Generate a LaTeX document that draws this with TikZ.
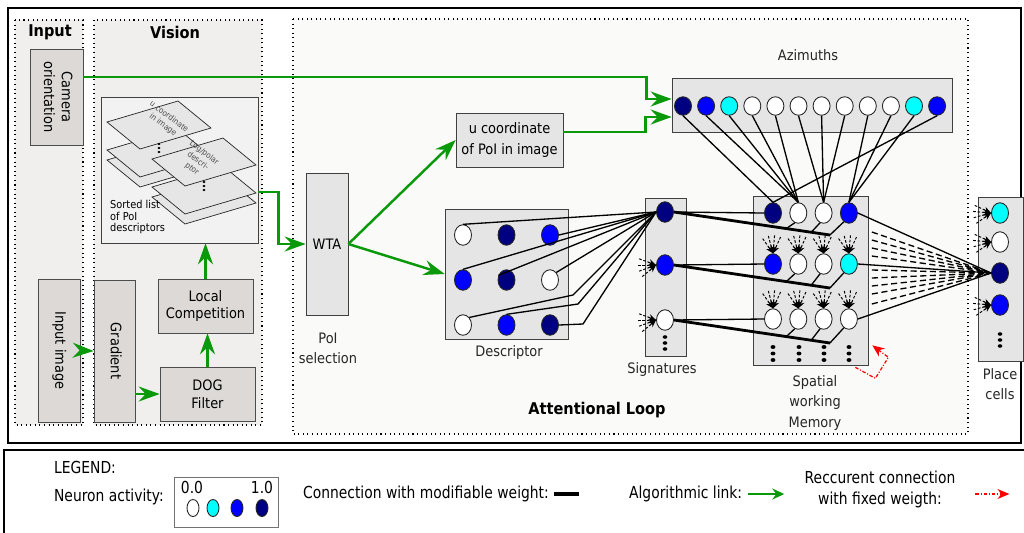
\documentclass[tikz,border=0pt]{standalone}
\usepackage{fontspec}
\setmainfont[FakeStretch=0.9]{DejaVu Sans}
\newfontfamily\legfont[FakeStretch=0.84]{DejaVu Sans}
\usetikzlibrary{arrows.meta, shapes.geometric, calc}

\definecolor{panelgray}{HTML}{F0EFED}
\definecolor{loopgray}{HTML}{FAFAF8}
\definecolor{blockgray}{HTML}{DCD9D6}
\definecolor{boxgray}{HTML}{E5E5E5}
\definecolor{layergray}{HTML}{E6E6E6}
\definecolor{algogreen}{HTML}{0A990A}
\definecolor{navyn}{HTML}{000080}
\definecolor{bluen}{HTML}{0000FF}
\definecolor{cyann}{HTML}{00FFFF}

% dashed input fan pointing at #1, coming from direction #2
\newcommand{\fanin}[2]{%
  \foreach \da in {-30,-10,10,30}
    \draw[fan] (#1) ++(#2+\da:0.36cm) -- (#1);}
% column of three dots
\newcommand{\dotcol}[3]{%
  \foreach \k in {0,1,2}
    \fill (#1,#2+\k*#3) ellipse ({#3*0.38} and {#3*0.3});}
% one sheet of the sorted list
\newcommand{\sheet}[2]{%
  \filldraw[layer] (#1,#2) -- ++(71,-21) -- ++(33,27) -- ++(-71,21) -- cycle;}
\newcommand{\vtext}[1]{\rotatebox{-90}{\begin{tabular}{@{}c@{}}#1\end{tabular}}}

\begin{document}
\begin{tikzpicture}[x=0.02cm, y=-0.02cm,
  font=\fontsize{8.2}{11.5}\selectfont,
  panel/.style={draw, dotted, line width=0.6pt, fill=panelgray},
  block/.style={draw=black!70, fill=blockgray, align=center, inner sep=1pt,
                font=\fontsize{8.2}{10}\selectfont},
  box/.style={draw=black!75, fill=boxgray, align=center, inner sep=1pt},
  layer/.style={draw=black!85, fill=layergray, line width=0.4pt},
  sheettxt/.style={font=\fontsize{4.6}{5.8}\selectfont, text=black!70, align=center, inner sep=0pt},
  lbl/.style={align=center, text=black!85},
  title/.style={font=\bfseries\fontsize{9.2}{10}\selectfont},
  leg/.style={font=\legfont\fontsize{9.4}{12}\selectfont, inner sep=1pt},
  neuron/.style={ellipse, draw=black!85, line width=0.5pt, minimum width=0.34cm,
                 minimum height=0.41cm, inner sep=0pt},
  syn/.style={line width=0.75pt},
  bus/.style={line width=1.6pt},
  dsyn/.style={line width=0.75pt, dash pattern=on 3.5pt off 2pt},
  fan/.style={dash pattern=on 1.5pt off 1pt, line width=0.55pt, -{Stealth[length=1.5mm, width=1.3mm]}},
  algo/.style={draw=algogreen, line width=1.4pt, -{Stealth[length=4.2mm, width=3mm, inset=1.4mm]}},
  recur/.style={red, line width=0.7pt, dash pattern=on 2pt off 1pt on 0.6pt off 1pt,
                -{Stealth[length=2.4mm, width=2mm]}}]

  \useasboundingbox[fill=white] (0,0) rectangle (1024,532);

  % frames and panels
  \draw[line width=1.1pt] (8,8) rectangle (1021,443);
  \draw[line width=0.6pt] (4,450) rectangle (1040,545);
  \draw[panel] (15,20) rectangle (83,425);
  \draw[panel] (94,20) rectangle (262,425);
  \draw[panel, fill=loopgray] (293,19) rectangle (968,434);
  \node[title] (tin) at (50,32) {Input};
  \node[title] (tvis) at (175,32) {Vision};
  \node[title] (tloop) at (597,410) {Attentional Loop};

  % input and vision
  \node[block, minimum width=1.06cm, minimum height=1.92cm] (cam) at (56.5,97) {\vtext{Camera\\orientation}};
  \node[block, minimum width=0.84cm, minimum height=2.86cm] (inimg) at (59,350.5) {\vtext{Input image}};
  \node[block, minimum width=0.82cm, minimum height=2.84cm] (grad) at (114.5,351) {\vtext{Gradient}};
  \node[block, minimum width=1.9cm, minimum height=1.08cm] (dog) at (207.5,394) {DOG\\Filter};
  \node[block, minimum width=1.9cm, minimum height=1.08cm] (locc) at (205.5,306) {Local\\Competition};
  \node[draw=black!75, fill=black!5, minimum width=3.14cm, minimum height=2.92cm] (sorted) at (179.5,170) {};
  \sheet{107}{160} \sheet{107}{150} \sheet{107}{122}
  \node[sheettxt, rotate=-37] (su) at (166,121) {u coordinate\\in image};
  \dotcol{159}{144}{4}
  \sheet{152}{197} \sheet{152}{187} \sheet{152}{159}
  \node[sheettxt, rotate=-37] (sl) at (198,161) {Log/polar\\descri-\\ptor};
  \dotcol{204}{182}{4}
  \node[anchor=west, align=left, font=\fontsize{6.2}{6.6}\selectfont] (sortlbl) at (104,217) {Sorted list\\of PoI\\descriptors};

  % attentional loop boxes
  \node[box, minimum width=0.84cm, minimum height=2.84cm] (wta) at (327,244) {WTA};
  \node[lbl] (wtalbl) at (328,348) {PoI\\selection};
  \node[box, minimum width=2.14cm, minimum height=1.08cm] (ucoord) at (509.5,140) {u coordinate\\of PoI in image};
  \node[box, minimum width=2.46cm, minimum height=2.6cm] (desc) at (506.5,274) {};
  \node[lbl] (desclbl) at (509,353) {Descriptor};
  \node[box, minimum width=0.82cm, minimum height=3.16cm] (sig) at (665.5,277) {};
  \node[lbl] (siglbl) at (662,370) {Signatures};
  \node[box, minimum width=5.6cm, minimum height=1.08cm] (azim) at (812,105) {};
  \node[lbl] (azlbl) at (808,55) {Azimuths};
  \node[box, minimum width=2.3cm, minimum height=3.38cm] (mem) at (810.5,280.5) {};
  \node[lbl] (memlbl) at (815,403) {Spatial\\working\\Memory};
  \node[box, minimum width=0.9cm, minimum height=3.28cm] (place) at (1000.5,279) {};
  \node[lbl] (placelbl) at (1000,384) {Place\\cells};

  % neurons
  \foreach \c [count=\k from 0] in {white,navyn,bluen,bluen,navyn,white,white,bluen,navyn} {
    \pgfmathtruncatemacro\r{div(\k,3)+1}
    \pgfmathtruncatemacro\q{mod(\k,3)+1}
    \node[neuron, fill=\c] (d\r\q) at ({463+43.5*(\q-1)},{235+45*(\r-1)}) {};
  }
  \foreach \c/\y [count=\k] in {navyn/212, bluen/265, white/320}
    \node[neuron, fill=\c] (s\k) at (665,\y) {};
  \dotcol{665}{337}{6}
  \foreach \c [count=\k from 0] in {navyn,white,white,bluen,bluen,white,white,cyann,white,white,white,white} {
    \pgfmathtruncatemacro\r{div(\k,4)+1}
    \pgfmathtruncatemacro\q{mod(\k,4)+1}
    \pgfmathsetmacro\y{{213,264,319}[\r-1]}
    \node[neuron, fill=\c] (m\r\q) at ({773+25.3*(\q-1)},\y) {};
  }
  \foreach \x in {773,799,824,849} {\dotcol{\x}{347}{6.5}}
  \foreach \c [count=\k] in {navyn,bluen,cyann,white,white,white,white,white,white,white,cyann,bluen}
    \node[neuron, minimum height=0.37cm, fill=\c] (a\k) at ({683+23.1*(\k-1)},106) {};
  \foreach \c/\y [count=\k] in {cyann/213, white/242, navyn/273, bluen/305}
    \node[neuron, fill=\c] (p\k) at (1000,\y) {};
  \dotcol{1000}{334}{6}

  % input fans
  \fanin{s2.west}{190}
  \fanin{s3.west}{190}
  \foreach \r in {2,3} {\foreach \q in {1,...,4} {\fanin{m\r\q.north}{95}}}
  \foreach \k in {1,2,4} {\fanin{p\k.west}{185}}

  % algorithmic links
  \draw[algo] (inimg.east) -- (grad.west);
  \draw[algo] (grad.east |- dog.west) -- (dog.west);
  \draw[algo] (dog.north) -- (dog.north |- locc.south);
  \draw[algo] (locc.north) -- (locc.north |- sorted.south);
  \draw[algo] ([yshift=-0.44cm]sorted.east) -- ++(20,0) |- (wta.west);
  \draw[algo] (wta.east) -- (ucoord.west);
  \draw[algo] (wta.east) -- (desc.west);
  \draw[algo] ([yshift=0.4cm]cam.east) -| ([xshift=-0.5cm, yshift=0.12cm]azim.west) -- ([yshift=0.12cm]azim.west);
  \draw[algo] ([yshift=0.16cm]ucoord.east) -| ([xshift=-0.52cm, yshift=-0.24cm]azim.west) -- ([yshift=-0.24cm]azim.west);

  % descriptor to signatures
  \draw[syn] (d11.north) -- (s1.west);
  \draw[syn] (d13.east) -- (s1.west);
  \draw[syn] (d21.north) -- (s1.west);
  \draw[syn] (d22.150) -- (s1.west);
  \draw[syn] (d23.north east) -- (s1.west);
  \draw[syn] (d31.north east) -- (573,295) -- (s1.west);
  \draw[syn] (d32.north) -- (578,304) -- (s1.west);
  \draw[syn] (d33.east) -- (583,324) -- (s1.west);

  % signatures to spatial memory
  \foreach \r in {1,2,3} {
    \draw[syn] (s\r.east) -- (m\r1.west);
    \draw[bus] (s\r.east) -- ++(156,23) coordinate (b\r);
    \draw[syn] ($(s\r.east)!0.72!(b\r)$) -- (m\r2.-110);
    \draw[syn] ($(s\r.east)!0.88!(b\r)$) -- (m\r3.-110);
    \draw[syn] (b\r) -- (m\r4.-120);
  }

  % azimuths to spatial memory
  \foreach \a/\m in {1/11,2/12,3/12,4/12,5/12,6/13,7/13,8/13,9/14,10/14,11/14,12/11}
    \draw[syn] (a\a.south) -- (m\m.north);

  % spatial memory to place cells
  \foreach \r in {1,2,3} \draw[syn] (m\r4.east) -- (p3.west);
  \foreach \dy in {0.97,0.81,0.65,0.49,0.21,0.05,-0.11,-0.27,-0.47}
    \draw[dsyn] ([xshift=2pt, yshift=\dy cm]mem.east) -- (p3.west);

  \draw[recur] ([xshift=-0.26cm, yshift=-0.04cm]mem.south east) -- ++(20,11) -- ++(13,-21) -- ++(-16,-12);

  % legend
  \node[leg, anchor=west] (legt) at (52,467) {LEGEND:};
  \node[leg, anchor=west] (legact) at (52,497) {Neuron activity:};
  \node[draw=black!55, line width=0.4pt, fill=white, minimum width=2.08cm, minimum height=1.0cm] (legbox) at (226,502) {};
  \node[leg] (l00) at (192,487) {0.0};
  \node[leg] (l10) at (262,487) {1.0};
  \foreach \c/\x [count=\k] in {white/193, cyann/213, bluen/237, navyn/262}
    \node[neuron, fill=\c, minimum width=0.24cm, minimum height=0.34cm] (ln\k) at (\x,508) {};
  \node[leg, anchor=west] (legmod) at (301,494) {Connection with modifiable weight:};
  \draw[line width=1.8pt] ([xshift=0.06cm]legmod.east) -- ++(25,0);
  \node[leg, anchor=west] (legalg) at (627,494) {Algorithmic link:};
  \draw[algo, line width=1.1pt, -{Stealth[length=2.4mm, width=2.2mm, inset=0.8mm]}] ([xshift=0.08cm]legalg.east) -- ++(36,0);
  \node[leg, align=center] (legrec) at (880,489) {Reccurent connection\\with fixed weigth:};
  \draw[recur] ([xshift=0.36cm, yshift=-0.1cm]legrec.east) -- ++(34,0);
\end{tikzpicture}
\end{document}
